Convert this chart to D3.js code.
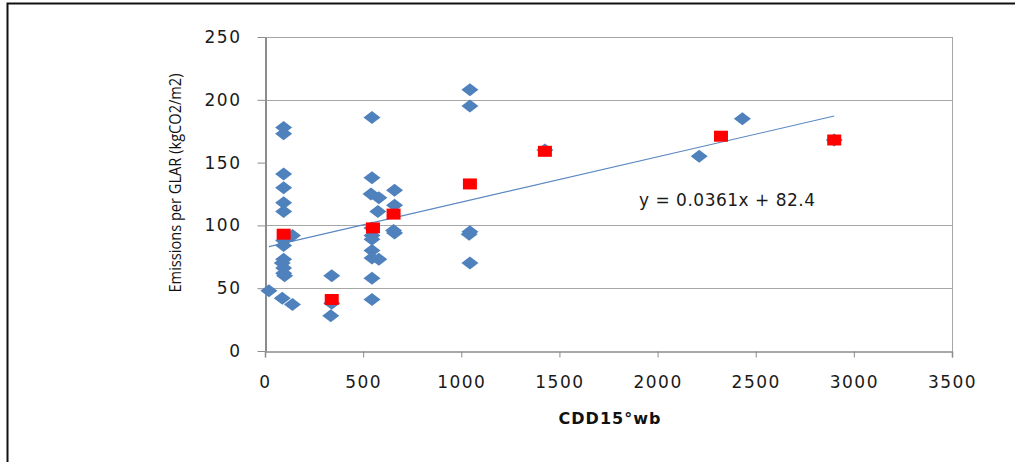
<!DOCTYPE html>
<html>
<head>
<meta charset="utf-8">
<script src="https://cdn.jsdelivr.net/npm/d3@7"></script>
<style>
  body { margin: 0; background: #fff; }
  svg { display: block; }
</style>
</head>
<body>
<svg id="chart" width="1015" height="462"></svg>
<script>
// Observed buildings: CDD15 wet bulb vs emissions per GLAR
const cddValues = [95, 95, 95, 95, 95, 95, 140, 95, 95, 95, 88, 95, 95, 100, 20, 88, 140,
    340, 340, 335,
    545, 545, 540, 580, 575, 545, 545, 545, 545, 545, 580, 545, 545,
    660, 660, 655, 660,
    1044, 1044, 1044, 1040, 1044,
    1426, 2212, 2432, 2900];
const emissionValues = [178, 173, 141, 130, 118, 111, 92, 88, 84, 73, 70, 66, 62, 60, 48, 42, 37,
    60, 38, 28,
    186, 138, 125, 122, 111, 98, 92, 89, 80, 74, 73, 58, 41,
    128, 116, 96, 94,
    208, 195, 95, 93, 70,
    160, 155, 185, 168];

// Averages (red squares)
const avgCdd = [95, 340, 550, 655, 1044, 1426, 2323, 2900];
const avgEmission = [93, 41, 98, 109, 133, 159, 171, 168];

// Trend line y = 0.0361x + 82.4
const slope = 0.0361;
const intercept = 82.4;

const xTicks = [0, 500, 1000, 1500, 2000, 2500, 3000, 3500];
const yTicks = [0, 50, 100, 150, 200, 250];
const yGrid = [50, 100, 200, 250];

const svg = d3.select("#chart");

// Outer frame
svg.append("rect")
    .attr("x", 7.5)
    .attr("y", 3.5)
    .attr("width", 1030)
    .attr("height", 500)
    .attr("fill", "none")
    .attr("stroke", "#111")
    .attr("stroke-width", 2);

const x = d3.scaleLinear().domain([0, 3500]).range([265, 952]);
const y = d3.scaleLinear().domain([0, 250]).range([351, 37]);

// Gridlines
svg.append("g")
    .selectAll("line")
    .data(yGrid)
    .enter().append("line")
    .attr("x1", x(0))
    .attr("x2", x(3500))
    .attr("y1", d => Math.round(y(d)) + 0.5)
    .attr("y2", d => Math.round(y(d)) + 0.5)
    .attr("stroke", "#a6a6a6")
    .attr("stroke-width", 1);

// Right border of plot
svg.append("line")
    .attr("x1", Math.round(x(3500)) + 0.5)
    .attr("x2", Math.round(x(3500)) + 0.5)
    .attr("y1", y(250))
    .attr("y2", y(0))
    .attr("stroke", "#a6a6a6");

// X axis
const xAxis = svg.append("g")
    .attr("transform", `translate(0,${Math.round(y(0)) + 0.5})`)
    .call(d3.axisBottom(x).tickValues(xTicks).tickSize(6).tickPadding(18).tickFormat(d3.format("d")));
xAxis.select(".domain").attr("stroke", "#8c8c8c").attr("stroke-width", 1.5);
xAxis.selectAll(".tick line").attr("stroke", "#8c8c8c");

// Y axis
const yAxis = svg.append("g")
    .attr("transform", `translate(${Math.round(x(0)) + 0.5},0)`)
    .call(d3.axisLeft(y).tickValues(yTicks).tickSize(8).tickPadding(16).tickSizeOuter(0).tickFormat(d3.format("d")));
yAxis.select(".domain").attr("stroke", "#8c8c8c").attr("stroke-width", 2);
yAxis.selectAll(".tick line").attr("stroke", "#8c8c8c");

svg.selectAll(".tick text")
    .attr("fill", "#1a1a1a")
    .style("font-family", "DejaVu Sans, sans-serif")
    .style("font-size", "17px")
    .style("letter-spacing", "1.5px");

// Trend line
svg.append("line")
    .attr("x1", x(d3.min(cddValues)))
    .attr("y1", y(slope * d3.min(cddValues) + intercept))
    .attr("x2", x(d3.max(cddValues)))
    .attr("y2", y(slope * d3.max(cddValues) + intercept))
    .attr("stroke", "#5a88c0")
    .attr("stroke-width", 1.1);

// Blue diamonds
const diamond = "M0,-6.5 L8.5,0 L0,6.5 L-8.5,0 Z";
svg.append("g")
    .selectAll("path")
    .data(cddValues.map((c, i) => ({ cdd: c, value: emissionValues[i] })))
    .enter().append("path")
    .attr("d", diamond)
    .attr("transform", d => `translate(${x(d.cdd)},${y(d.value)})`)
    .attr("fill", "#4f81bd");

// Red squares
svg.append("g")
    .selectAll("rect")
    .data(avgCdd.map((c, i) => ({ cdd: c, value: avgEmission[i] })))
    .enter().append("rect")
    .attr("x", d => x(d.cdd) - 7)
    .attr("y", d => y(d.value) - 5.5)
    .attr("width", 14)
    .attr("height", 11)
    .attr("fill", "#ff0000");

// Equation label
svg.append("text")
    .attr("x", 639)
    .attr("y", 206)
    .attr("fill", "#1a1a1a")
    .style("font-family", "DejaVu Sans, sans-serif")
    .style("font-size", "17px")
    .style("letter-spacing", "0.5px")
    .text("y = 0.0361x + 82.4");

// Axis titles
svg.append("text")
    .attr("x", 610)
    .attr("y", 424)
    .attr("text-anchor", "middle")
    .attr("fill", "#111")
    .style("font-family", "DejaVu Sans, sans-serif")
    .style("font-weight", "bold")
    .style("font-size", "16px")
    .style("letter-spacing", "1px")
    .text("CDD15°wb");

svg.append("text")
    .attr("transform", "translate(181,183) rotate(-90) scale(0.86,1)")
    .attr("text-anchor", "middle")
    .attr("fill", "#111")
    .style("font-family", "Open Sans, sans-serif")
    .style("font-size", "17px")
    .text("Emissions per GLAR (kgCO2/m2)");
</script>
</body>
</html>
